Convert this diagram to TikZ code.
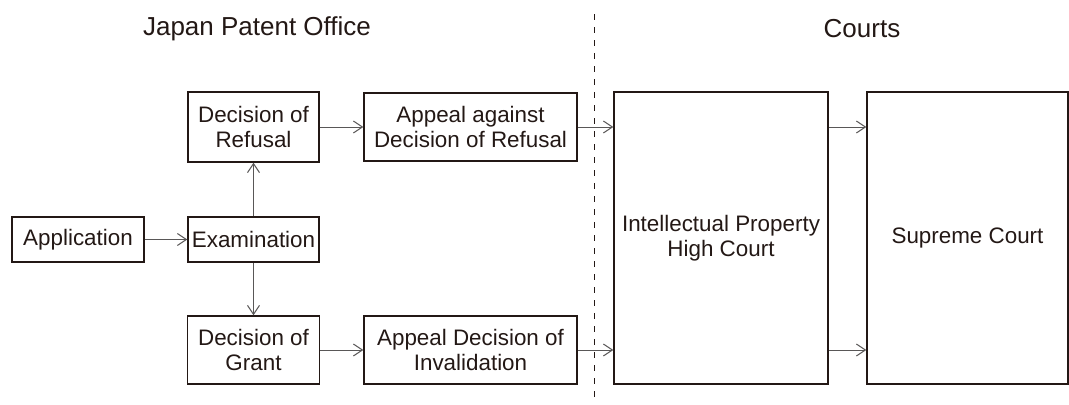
\documentclass[tikz,border=0pt]{standalone}
\usepackage{fontspec}
\setmainfont{Liberation Sans}
\usetikzlibrary{arrows.meta}
\definecolor{ink}{HTML}{231815}
\definecolor{arr}{HTML}{595757}
\begin{document}
\begin{tikzpicture}[x=0.75pt,y=-0.75pt,
  box/.style={draw=ink, line width=1.1pt, inner sep=0pt, align=center,
    text=ink, font=\fontsize{16.8}{18.75}\selectfont},
  flow/.style={draw=arr, line width=0.75pt, -{Straight Barb[length=6.75pt,width=9pt]}},
  title/.style={text=ink, font=\fontsize{19.5}{22}\selectfont, inner sep=0pt}]
\useasboundingbox (0,0) rectangle (1069,404);
\node[title] (jpo) at (257,29) {Japan Patent Office};
\node[title] (courts) at (862,29) {Courts};
\coordinate (dtop) at (594,14);
\coordinate (dbot) at (594,404);
\draw[ink, line width=0.75pt, dash pattern=on 4.5pt off 5.25pt] (dtop) -- (dbot);
\node[box, minimum width=99pt, minimum height=33.75pt] (app) at (78,239.5) {Application};
\node[box, minimum width=98.25pt, minimum height=33.75pt] (exam) at (253.5,239.5) {Examination};
\node[box, minimum width=98.25pt, minimum height=52.5pt] (ref) at (253.5,127) {Decision of\\Refusal};
\node[box, minimum width=99pt, minimum height=51pt] (grant) at (253.5,350) {Decision of\\Grant};
\node[box, minimum width=159.75pt, minimum height=51pt] (appref) at (470.5,127) {Appeal against\\Decision of Refusal};
\node[box, minimum width=159.75pt, minimum height=51pt] (appinv) at (470.5,350) {Appeal Decision of\\Invalidation};
\node[box, minimum width=160.5pt, minimum height=219pt] (ip) at (721,238) {Intellectual Property\\High Court};
\node[box, minimum width=150.75pt, minimum height=219pt] (sup) at (967.5,238) {Supreme Court};
\draw[flow] (app) -- (exam);
\draw[flow] (exam) -- (ref);
\draw[flow] (exam) -- (grant);
\draw[flow] (ref) -- (appref);
\draw[flow] (grant) -- (appinv);
\draw[flow] (appref.east) -- (ip.west |- appref.east);
\draw[flow] (appinv.east) -- (ip.west |- appinv.east);
\draw[flow] (ip.east |- appref.east) -- (sup.west |- appref.east);
\draw[flow] (ip.east |- appinv.east) -- (sup.west |- appinv.east);
\end{tikzpicture}
\end{document}
